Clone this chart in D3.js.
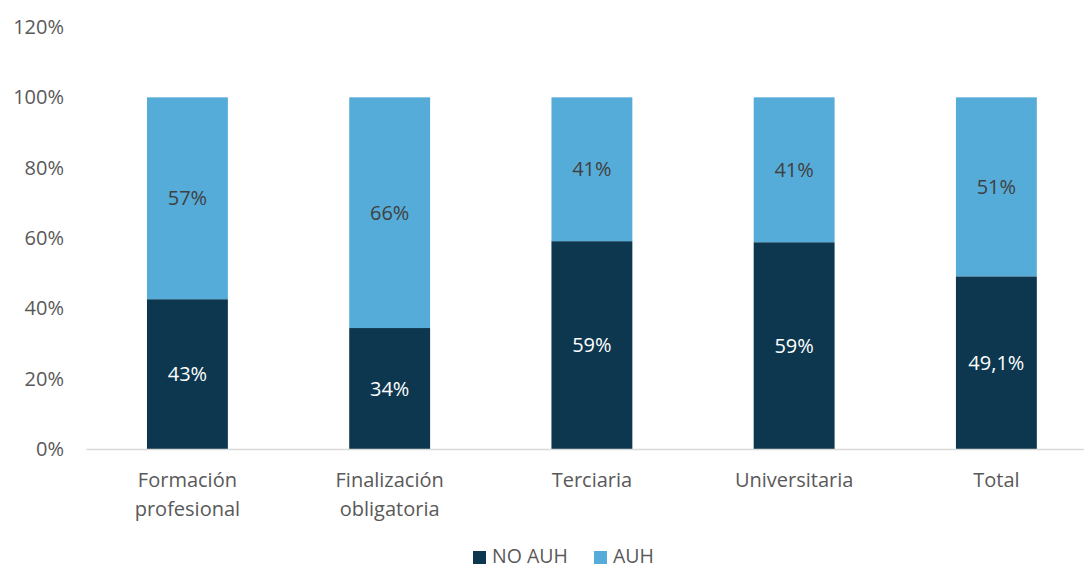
<!DOCTYPE html>
<html><head><meta charset="utf-8">
<script src="https://cdn.jsdelivr.net/npm/d3@7"></script>
<style>body{margin:0;background:#fff;} svg{display:block;font-family:"Open Sans",Lato,sans-serif;}</style>
</head><body><svg id="c" width="1084" height="569"></svg>
<script>
const categories = [["Formación","profesional"],["Finalización","obligatoria"],["Terciaria"],["Universitaria"],["Total"]];
const noAuh = [42.6, 34.4, 59.1, 58.8, 49.1];
const auh = [57.4, 65.6, 40.9, 41.2, 50.9];
const noAuhLabels = ["43%","34%","59%","59%","49,1%"];
const auhLabels = ["57%","66%","41%","41%","51%"];
const yTicks = [0,20,40,60,80,100,120];
const seriesNames = ["NO AUH","AUH"];
const colors = ["#0C374F","#56ACD8"];

(function(){
const svg = d3.select("#c");
const fs = "20px";
const pLeft = 86.3, pRight = 1097.5, pTop = 27, pBottom = 449;
const x = d3.scaleBand().domain(d3.range(categories.length)).range([pLeft,pRight]).paddingInner(0.6).paddingOuter(0.3);
const y = d3.scaleLinear().domain([0,120]).range([pBottom,pTop]);

svg.append("g").selectAll("text").data(yTicks).join("text")
  .attr("x",64).attr("y",d=>y(d)).attr("dy","0.35em").attr("text-anchor","end")
  .attr("fill","#595959").style("font-size",fs).text(d=>d+"%");

const g = svg.append("g");
categories.forEach((c,i)=>{
  const x0 = x(i), w = x.bandwidth();
  g.append("rect").attr("x",x0).attr("width",w).attr("y",y(noAuh[i])).attr("height",y(0)-y(noAuh[i])).attr("fill",colors[0]);
  g.append("rect").attr("x",x0).attr("width",w).attr("y",y(noAuh[i]+auh[i])).attr("height",y(noAuh[i])-y(noAuh[i]+auh[i])).attr("fill",colors[1]);
  g.append("text").attr("x",x0+w/2).attr("y",(y(0)+y(noAuh[i]))/2).attr("dy","0.35em").attr("text-anchor","middle")
    .attr("fill","#ffffff").style("font-size",fs).text(noAuhLabels[i]);
  g.append("text").attr("x",x0+w/2).attr("y",(y(noAuh[i])+y(noAuh[i]+auh[i]))/2).attr("dy","0.35em").attr("text-anchor","middle")
    .attr("fill","#404040").style("font-size",fs).text(auhLabels[i]);
  const t = svg.append("text").attr("x",x0+w/2).attr("y",480).attr("text-anchor","middle")
    .attr("fill","#595959").style("font-size",fs);
  c.forEach((line,j)=>t.append("tspan").attr("x",x0+w/2).attr("dy", j===0?"0.35em":"29px").text(line));
});

svg.append("line").attr("x1",pLeft).attr("x2",1084).attr("y1",y(0)+0.5).attr("y2",y(0)+0.5).attr("stroke","#D9D9D9").attr("stroke-width",1.5);

const leg = svg.append("g");
const lx = [473, 594];
seriesNames.forEach((s,i)=>{
  leg.append("rect").attr("x",lx[i]).attr("y",551).attr("width",13).attr("height",13).attr("fill",colors[i]);
  leg.append("text").attr("x",lx[i]+19).attr("y",556).attr("dy","0.35em").attr("fill","#595959").style("font-size","19.5px").text(s);
});
})();
</script></body></html>
